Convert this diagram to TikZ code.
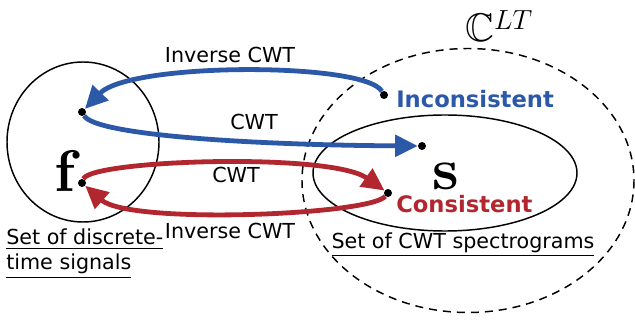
\documentclass[tikz,border=0pt]{standalone}
\usepackage{amssymb}
\usepackage[no-math]{fontspec}
\setmainfont{DejaVu Sans}
\newfontfamily\lmfont{lmroman10}[Extension=.otf,UprightFont=*-regular,BoldFont=*-bold]
\usetikzlibrary{arrows.meta}
\definecolor{cblue}{HTML}{2B59A8}
\definecolor{cred}{HTML}{B2262F}
\tikzset{
  setline/.style={line width=1.1pt},
  dot/.style={circle,fill=black,inner sep=0pt,minimum size=6pt},
  flow/.style={line width=3.6pt,-{Triangle[length=17pt,width=16pt]}},
  lbl/.style={font=\fontsize{15.5}{17}\selectfont,inner sep=0pt},
  big/.style={inner sep=0pt,text depth=0pt,font=\lmfont\bfseries\fontsize{44}{44}\selectfont}
}
\begin{document}
\begin{tikzpicture}[x=0.75pt,y=-0.75pt]
\useasboundingbox (0,0) rectangle (635,320);
% sets
\draw[setline] (83,142) ellipse [x radius=76, y radius=80];
\draw[setline,dash pattern=on 6pt off 4.5pt] (468,180.5) ellipse [x radius=166, y radius=132];
\draw[setline] (445,173) ellipse [x radius=132, y radius=58];
% dots
\node[dot] (fb) at (82,112) {};
\node[dot] (fr) at (82,183) {};
\node[dot] (inc) at (384,95) {};
\node[dot] (sb) at (422,146) {};
\node[dot] (con) at (388,193) {};
% arrows
\draw[flow,cblue] (inc) .. controls (365,62) and (130,62) .. (fb);
\draw[flow,cblue] (fb) .. controls (95,135) and (250,145) .. (sb);
\draw[flow,cred] (fr) .. controls (90,160) and (330,152) .. (con);
\draw[flow,cred] (con) .. controls (370,215) and (130,225) .. (fr);
% labels
\node[lbl] (l1) at (230,55) {Inverse CWT};
\node[lbl] (l2) at (254,122) {CWT};
\node[lbl] (l3) at (236,175) {CWT};
\node[lbl] (l4) at (230,231) {Inverse CWT};
\node[lbl,font=\bfseries\fontsize{17}{19}\selectfont,text=cblue,anchor=west] (t1) at (396,99) {Inconsistent};
\node[lbl,font=\bfseries\fontsize{17}{19}\selectfont,text=cred,anchor=west] (t2) at (396,204) {Consistent};
\node[lbl,anchor=north west,align=left,font=\fontsize{15.5}{18.75}\selectfont] (s1) at (6,229) {\underline{Set of discrete-}\\\underline{time signals}};
\node[lbl] (s2) at (463,245) {\underline{Set of CWT spectrograms}};
\node[big,anchor=base] (f) at (65,192) {f};
\node[big,anchor=base] (s) at (446,190) {s};
\node[inner sep=0pt,font=\fontsize{30}{30}\selectfont] (c) at (499,26) {$\mathbb{C}^{LT}$};
\end{tikzpicture}
\end{document}
